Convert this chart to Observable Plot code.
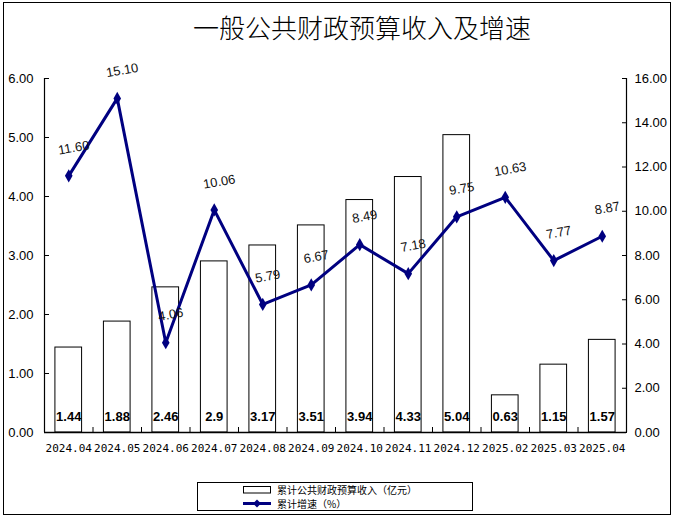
<!DOCTYPE html>
<html>
<head>
<meta charset="utf-8">
<script src="https://cdn.jsdelivr.net/npm/d3@7"></script>
<script src="https://cdn.jsdelivr.net/npm/@observablehq/plot@0.6"></script>
<style>
  html, body { margin: 0; padding: 0; background: #fff; }
  #wrap { position: relative; width: 677px; height: 519px; overflow: hidden; }
  #frame { position: absolute; left: 3px; top: 2px; width: 666px; height: 511px; border: 1.5px solid #000; }
  #title { position: absolute; left: 193px; top: 14px; font-family: "Noto Sans CJK SC"; font-weight: 300; font-size: 26px; line-height: 26px; color: #000; white-space: nowrap; }
  #chart { position: absolute; left: 0; top: 0; }
  #legend { position: absolute; left: 197px; top: 482px; width: 274px; height: 27px; border: 1px solid #000; font-family: "Noto Sans CJK SC"; font-size: 10px; color: #000; }
  .row { position: absolute; left: 0; height: 13px; line-height: 13px; white-space: nowrap; }
  .row svg { position: absolute; left: 45px; top: 0; }
  .row span { position: absolute; left: 79px; top: 0; line-height: 13px; }
</style>
</head>
<body>
<div id="wrap">
  <div id="frame"></div>
  <div id="chart"></div>
  <div id="title">一般公共财政预算收入及增速</div>
  <div id="legend">
    <div class="row" style="top:0px"><svg width="30" height="13"><rect x="0.5" y="3.5" width="27" height="6.5" fill="#fff" stroke="#000" stroke-width="1"/></svg><span>累计公共财政预算收入（亿元）</span></div>
    <div class="row" style="top:13.5px"><svg width="30" height="13"><line x1="0" y1="6.5" x2="28" y2="6.5" stroke="#000080" stroke-width="3"/><path d="M14,2.5 L18,6.5 L14,10.5 L10,6.5 Z" fill="#000080"/></svg><span>累计增速（%）</span></div>
  </div>
</div>
<script>
const months = ["2024.04","2024.05","2024.06","2024.07","2024.08","2024.09","2024.10","2024.11","2024.12","2025.02","2025.03","2025.04"];
const revenue = [1.44, 1.88, 2.46, 2.9, 3.17, 3.51, 3.94, 4.33, 5.04, 0.63, 1.15, 1.57];
const revenueLabels = ["1.44","1.88","2.46","2.9","3.17","3.51","3.94","4.33","5.04","0.63","1.15","1.57"];
const growth = [11.60, 15.10, 4.06, 10.06, 5.79, 6.67, 8.49, 7.18, 9.75, 10.63, 7.77, 8.87];
const leftTicks = [0, 1, 2, 3, 4, 5, 6];
const rightTicks = [0, 2, 4, 6, 8, 10, 12, 14, 16];
const leftMax = 6, rightMax = 16;

const toLeft = v => v * leftMax / rightMax;
const data = months.map((m, i) => ({i, m, v: revenue[i], lab: revenueLabels[i], g: growth[i], gl: toLeft(growth[i])}));
const halfBar = 0.275;
const boundaries = months.slice(1).map((_, i) => i + 0.5);

const chart = Plot.plot({
  width: 677,
  height: 470,
  marginTop: 78,
  marginBottom: 38,
  marginLeft: 44,
  marginRight: 51,
  style: {fontFamily: "Liberation Sans, Arial, sans-serif", fontSize: "13px", color: "#000", background: "transparent"},
  x: {type: "linear", domain: [-0.5, months.length - 0.5], axis: null},
  y: {domain: [0, leftMax], axis: null},
  marks: [
    Plot.rectY(data, {x1: d => d.i - halfBar, x2: d => d.i + halfBar, y1: 0, y2: "v", fill: "white", stroke: "black", strokeWidth: 1}),
    Plot.ruleY([0], {stroke: "black", strokeWidth: 1.5}),
    Plot.ruleX([-0.5, months.length - 0.5], {y1: 0, y2: leftMax, stroke: "black", strokeWidth: 1.2}),
    Plot.axisY({anchor: "left", ticks: leftTicks, tickSize: 0, tickPadding: 11, tickFormat: d => d.toFixed(2), label: null, fontSize: 13}),
    Plot.axisY({anchor: "left", ticks: leftTicks, tickSize: 5, dx: 5, fill: "none", label: null}),
    Plot.axisY({anchor: "right", ticks: rightTicks.map(toLeft), tickSize: 0, tickPadding: 8, tickFormat: d => (d * rightMax / leftMax).toFixed(2), label: null, fontSize: 13}),
    Plot.axisY({anchor: "right", ticks: rightTicks.map(toLeft), tickSize: 5, dx: -5, fill: "none", label: null}),
    Plot.axisX({ticks: boundaries, tickSize: 5, dy: -5, fill: "none", label: null}),
    Plot.axisX({ticks: data.map(d => d.i), tickSize: 0, tickPadding: 12, tickFormat: i => months[i], label: null, fontFamily: "DejaVu Sans Mono", fontSize: 11}),
    Plot.line(data, {x: "i", y: "gl", stroke: "#000080", strokeWidth: 3}),
    Plot.dot(data, {x: "i", y: "gl", symbol: "diamond", r: 4, fill: "#000080"}),
    Plot.text(data, {x: "i", y: "gl", text: d => d.g.toFixed(2), dy: -28, dx: 5, rotate: -10, fontSize: 13, fill: "#111"}),
    Plot.text(data, {x: "i", y: 0, text: "lab", dy: -16, fontSize: 13, fontWeight: "bold", fill: "#000"})
  ]
});
document.getElementById("chart").appendChild(chart);
</script>
</body>
</html>
